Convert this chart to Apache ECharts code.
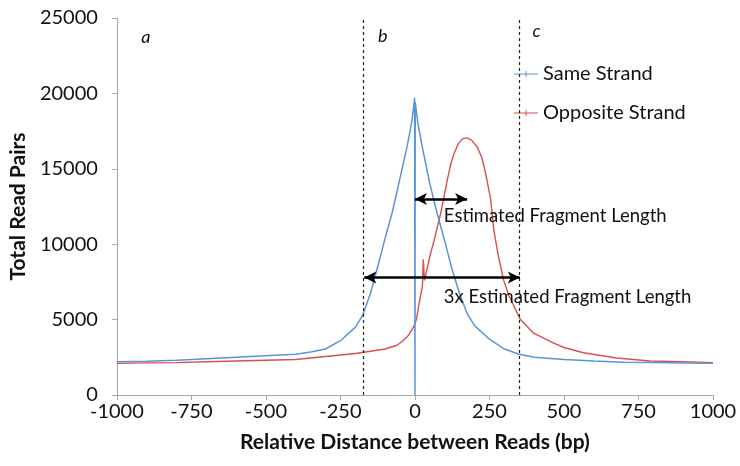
<!DOCTYPE html>
<html>
<head>
<meta charset="utf-8">
<script src="https://cdn.jsdelivr.net/npm/echarts@6/dist/echarts.min.js"></script>
<style>
  html, body { margin: 0; padding: 0; background: #fff; }
  #chart { width: 740px; height: 466px; }
</style>
</head>
<body>
<div id="chart"></div>
<script>
// Same Strand: [distance, read pairs]
const sameStrand = [
  [-1000, 2200], [-900, 2230], [-800, 2300], [-700, 2400], [-600, 2500], [-500, 2600],
  [-400, 2700], [-350, 2850], [-300, 3050], [-250, 3600], [-200, 4500], [-175, 5300],
  [-150, 6700], [-125, 8500], [-100, 10400], [-75, 12200], [-50, 14400], [-25, 16600],
  [-10, 18200], [-1, 19700], [0, 0], [1, 19400], [10, 18000], [25, 16400], [50, 14000],
  [75, 12000], [100, 10200], [125, 8300], [150, 6700], [175, 5400], [200, 4600],
  [250, 3700], [300, 3050], [350, 2700], [400, 2500], [500, 2350], [600, 2250],
  [700, 2180], [800, 2150], [900, 2120], [1000, 2100]
];

// Opposite Strand
const oppositeStrand = [
  [-1000, 2100], [-900, 2130], [-800, 2150], [-700, 2200], [-600, 2250], [-500, 2300],
  [-400, 2350], [-300, 2550], [-200, 2750], [-150, 2900], [-100, 3050], [-60, 3300],
  [-40, 3600], [-20, 4000], [-5, 4500], [5, 5000], [15, 6200], [25, 7200], [28, 9000],
  [32, 7600], [40, 8300], [50, 9200], [65, 10300], [87, 12100], [109, 14300],
  [120, 15300], [131, 16000], [145, 16650], [160, 17000], [175, 17050], [190, 16900],
  [209, 16450], [225, 15700], [237, 14700], [254, 13000], [264, 11000], [280, 9200],
  [297, 7650], [315, 6600], [332, 5900], [354, 5000], [398, 4100], [464, 3450],
  [500, 3150], [565, 2800], [676, 2450], [788, 2250], [900, 2200], [1000, 2150]
];

// dashed boundaries b and c
const boundaries = [-175, 350];
// arrows: [x1, x2, y]
const fragArrow = [0, 175, 13000];
const fragArrow3x = [-170, 352, 7800];
// text annotations: [x, y, text, italic]
const annotations = [
  [-918, 23700, 'a', true],
  [-124, 23770, 'b', true],
  [394, 24100, 'c', true],
  [97, 11890, 'Estimated Fragment Length', false],
  [97, 6510, '3x Estimated Fragment Length', false]
];

const FONT = 'Lato';
const blue = '#5A96D6';
const red = '#D6504E';

const chart = echarts.init(document.getElementById('chart'));

const option = {
  animation: false,
  textStyle: { fontFamily: FONT },
  grid: { left: 114, right: 27, top: 18, bottom: 71 },
  legend: {
    orient: 'vertical',
    left: 509,
    top: 59,
    itemWidth: 24,
    itemHeight: 8,
    itemGap: 19,
    textStyle: { fontFamily: FONT, fontSize: 20, color: '#111' },
    data: [
      { name: 'Same Strand', icon: 'path://M0,3.5h24v1h-24zM11.5,1h1v6h-1z', itemStyle: { color: blue } },
      { name: 'Opposite Strand', icon: 'path://M0,3.5h24v1h-24zM11.5,1h1v6h-1z', itemStyle: { color: red } }
    ]
  },
  xAxis: {
    type: 'value',
    min: -1000,
    max: 1000,
    interval: 250,
    name: 'Relative Distance between Reads (bp)',
    nameLocation: 'middle',
    nameGap: 37,
    nameTextStyle: { fontFamily: FONT, fontSize: 21, fontWeight: 'bold', color: '#111' },
    axisLine: { onZero: false, lineStyle: { color: '#a6a6a6', width: 1 } },
    axisTick: { show: true, length: 5, lineStyle: { color: '#a6a6a6' } },
    axisLabel: { fontSize: 20, color: '#111', margin: 7, formatter: v => String(v) },
    splitLine: { show: false }
  },
  yAxis: [
    {
      type: 'value',
      min: 0,
      max: 25000,
      interval: 5000,
      name: 'Total Read Pairs',
      nameLocation: 'middle',
      nameGap: 77,
      nameTextStyle: { fontFamily: FONT, fontSize: 21, fontWeight: 'bold', color: '#111' },
      axisLine: { show: false },
      axisTick: { show: false },
      axisLabel: { fontSize: 20, color: '#111', margin: 19, formatter: v => String(v) },
      splitLine: { show: false }
    },
    {
      type: 'value',
      min: 0,
      max: 25000,
      interval: 5000,
      position: 'left',
      axisLine: { show: true, onZero: true, lineStyle: { color: '#a6a6a6', width: 1 } },
      axisTick: { show: true, length: 5, lineStyle: { color: '#a6a6a6' } },
      axisLabel: { show: false },
      splitLine: { show: false }
    }
  ],
  series: [
    {
      name: 'Opposite Strand',
      type: 'line',
      data: oppositeStrand,
      showSymbol: false,
      color: red,
      lineStyle: { width: 1.4, color: red },
      z: 2,
      markLine: {
        silent: true,
        symbol: ['none', 'none'],
        label: { show: false },
        lineStyle: { color: '#222', type: [3, 3], width: 1.2 },
        data: boundaries.map(v => ({ xAxis: v }))
      },
      markPoint: {
        silent: true,
        symbol: 'circle',
        symbolSize: 0,
        data: annotations.map(a => ({
          coord: [a[0], a[1]],
          label: {
            show: true,
            position: 'right',
            distance: 0,
            formatter: a[2],
            fontFamily: FONT,
            fontSize: a[3] ? 18 : 18.5,
            fontStyle: a[3] ? 'italic' : 'normal',
            color: '#111'
          }
        }))
      }
    },
    {
      name: 'Same Strand',
      type: 'line',
      data: sameStrand,
      showSymbol: false,
      color: blue,
      lineStyle: { width: 1.5, color: blue },
      z: 3,
      markLine: {
        silent: true,
        symbol: ['arrow', 'arrow'],
        symbolSize: [9, 12],
        label: { show: false },
        lineStyle: { color: '#000', type: 'solid', width: 2.5 },
        data: [
          [{ coord: [fragArrow[0], fragArrow[2]] }, { coord: [fragArrow[1], fragArrow[2]] }],
          [{ coord: [fragArrow3x[0], fragArrow3x[2]] }, { coord: [fragArrow3x[1], fragArrow3x[2]] }]
        ]
      }
    }
  ]
};

chart.setOption(option);
</script>
</body>
</html>
